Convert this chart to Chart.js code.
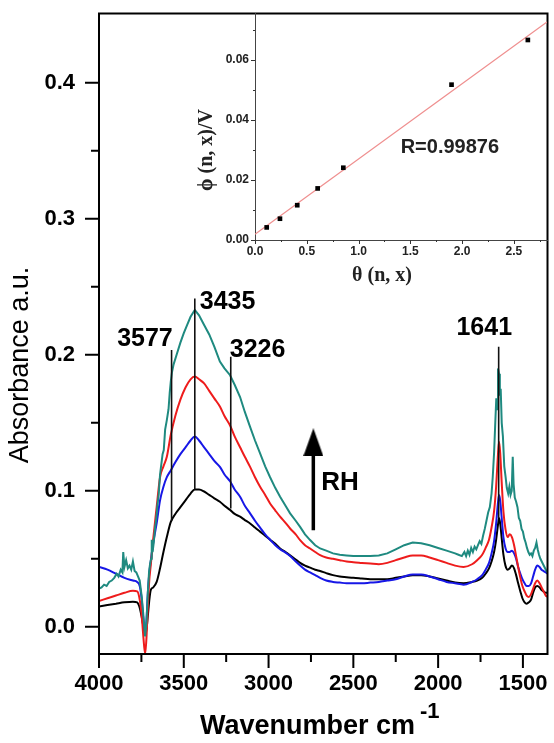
<!DOCTYPE html>
<html><head><meta charset="utf-8">
<script src="https://cdn.jsdelivr.net/npm/chart.js@4.4.1/dist/chart.umd.min.js"></script>
<style>
html,body{margin:0;padding:0;background:#fff;}
#wrap{position:relative;width:554px;height:743px;overflow:hidden;}
#main,#inset{position:absolute;left:0;top:0;}
</style></head><body>
<div id="wrap"><canvas id="main" width="561" height="743"></canvas><canvas id="inset" width="554" height="300"></canvas></div>
<script>
const wavenumbers = [4000,3950,3900,3850,3800,3775,3760,3748,3738,3728,3720,3712,3703,3695,3680,3660,3640,3620,3600,3577,
 3550,3520,3490,3460,3435,3410,3380,3350,3320,3287,
 3260,3227,3200,3168,3140,3109,3080,3050,3020,2991,
 2960,2932,2900,2873,2840,2814,2785,2755,2725,2696,
 2660,2620,2580,2540,2500,2450,2400,2350,2300,2250,
 2200,2150,2100,2050,2000,1950,1900,1850,1800,1770,
 1740,1720,1700,1685,1670,1658,1648,1641,1634,1625,
 1615,1603,1590,1578,1565,1552,1540,1528,1515,1503,
 1490,1478,1465,1452,1440,1428,1415,1402,1390,1378,
 1365,1355];
const absBlack = [0.015,0.016,0.017,0.018,0.0185,0.018,0.014,0.007,0.000,-0.005,-0.002,0.008,0.020,0.027,0.029,0.033,0.043,0.055,0.066,0.077,
 0.083,0.088,0.093,0.098,0.101,0.101,0.0995,0.097,0.0945,0.092,
 0.089,0.086,0.083,0.081,0.0785,0.076,0.073,0.070,0.067,0.064,
 0.061,0.0576,0.055,0.0525,0.0495,0.047,0.045,0.0435,0.042,0.041,
 0.0395,0.038,0.037,0.0365,0.036,0.0355,0.035,0.035,0.035,0.036,
 0.037,0.038,0.038,0.037,0.0355,0.034,0.0325,0.032,0.033,0.034,
 0.036,0.039,0.043,0.048,0.055,0.064,0.074,0.080,0.076,0.065,
 0.053,0.045,0.042,0.043,0.045,0.043,0.038,0.032,0.026,0.021,
 0.018,0.017,0.018,0.020,0.025,0.029,0.030,0.029,0.027,0.026,
 0.025,0.025];
const absBlue = [0.044,0.042,0.039,0.036,0.034,0.033,0.030,0.020,0.005,-0.005,0.005,0.025,0.040,0.048,0.062,0.076,0.093,0.103,0.110,0.115,
 0.121,0.127,0.132,0.137,0.140,0.137,0.132,0.127,0.122,0.1176,
 0.112,0.107,0.101,0.0956,0.089,0.0834,0.078,0.073,0.068,0.064,
 0.060,0.057,0.0545,0.052,0.048,0.045,0.042,0.040,0.038,0.036,
 0.034,0.033,0.0325,0.032,0.032,0.032,0.0325,0.033,0.034,0.035,
 0.037,0.0385,0.0385,0.037,0.035,0.033,0.032,0.031,0.033,0.035,
 0.038,0.042,0.047,0.054,0.063,0.076,0.090,0.097,0.093,0.080,
 0.066,0.058,0.055,0.055,0.056,0.054,0.050,0.044,0.039,0.035,
 0.032,0.030,0.030,0.032,0.037,0.042,0.045,0.044,0.042,0.041,
 0.040,0.039];
const absRed = [0.019,0.021,0.023,0.025,0.0265,0.026,0.020,0.008,-0.008,-0.020,-0.008,0.015,0.035,0.045,0.065,0.088,0.110,0.118,0.125,0.141,
 0.155,0.167,0.176,0.182,0.184,0.182,0.179,0.1735,0.168,0.162,
 0.155,0.148,0.140,0.132,0.125,0.1176,0.110,0.103,0.097,0.0907,
 0.0855,0.081,0.0765,0.0723,0.068,0.0637,0.060,0.0576,0.055,0.0527,
 0.051,0.050,0.049,0.048,0.0475,0.047,0.0465,0.046,0.047,0.049,
 0.051,0.0525,0.0525,0.051,0.049,0.047,0.045,0.044,0.046,0.049,
 0.053,0.058,0.064,0.073,0.085,0.103,0.125,0.136,0.128,0.106,
 0.085,0.072,0.066,0.068,0.066,0.060,0.052,0.044,0.036,0.030,
 0.026,0.023,0.022,0.024,0.028,0.032,0.034,0.032,0.029,0.026,
 0.023,0.022];
const tealWavenumbers = [4000,3985,3970,3955,3940,3925,3910,3896,3885,3872,3862,3857,3850,3840,3830,3820,3810,3800,3790,3780,3770,3760,
 3748,3738,3728,3720,3712,3705,3699,3693,3689,3684,3677,3670,3662,3655,3648,3640,3632,3625,3618,3610,3600,3590,3583,3577,3570,3560,
 3540,3520,3500,3480,3460,3435,3410,3380,3350,3320,3287,3260,3227,3200,3168,3140,3109,3080,3050,3020,2991,2960,2932,2900,2873,2840,2814,2785,2755,2725,2696,2660,2620,2580,2540,2500,2450,2400,2350,2300,2250,2200,2150,2100,2050,2000,1950,1900,
 1880,1860,1845,1835,1825,1815,1805,1795,1785,1775,1765,1755,1745,1735,1725,1715,1705,1695,1685,1678,1670,1663,1657,1652,1647,1641,1636,1631,1625,1618,1610,1602,1595,1587,1580,1573,1566,1560,1555,1548,1540,1532,1524,1516,1508,1500,1492,1484,1476,1468,1460,1452,1444,1436,1428,1420,1413,1405,1397,1389,1381,1373,1365,1355];
const absTeal = [0.028,0.029,0.031,0.030,0.033,0.034,0.036,0.039,0.037,0.042,0.040,0.055,0.044,0.049,0.043,0.045,0.042,0.048,0.041,0.040,0.037,0.034,
 0.022,0.008,-0.007,0.003,0.025,0.040,0.046,0.050,0.064,0.055,0.062,0.072,0.080,0.090,0.097,0.112,0.120,0.127,0.130,0.145,0.152,0.160,0.172,0.180,0.187,0.193,
 0.201,0.209,0.216,0.222,0.228,0.233,0.229,0.222,0.215,0.206,0.195,0.190,0.185,0.178,0.169,0.158,0.147,0.137,0.1275,0.118,0.110,0.102,0.0956,0.089,0.0834,0.078,0.0735,0.068,0.0638,0.060,0.0576,0.056,0.054,0.053,0.0525,0.052,0.052,0.052,0.0525,0.054,0.057,0.060,0.062,0.0615,0.060,0.058,0.056,0.054,
 0.053,0.052,0.055,0.052,0.056,0.053,0.058,0.055,0.059,0.057,0.060,0.063,0.061,0.067,0.072,0.078,0.084,0.088,0.098,0.110,0.128,0.150,0.168,0.160,0.190,0.186,0.170,0.175,0.150,0.140,0.118,0.110,0.102,0.098,0.103,0.097,0.100,0.125,0.105,0.095,0.092,0.088,0.080,0.078,0.072,0.070,0.065,0.062,0.058,0.055,0.053,0.054,0.052,0.056,0.058,0.062,0.057,0.053,0.050,0.048,0.046,0.044,0.042,0.040];

const xTickValues = [4000,3500,3000,2500,2000,1500];
const xMinorTickValues = [3750,3250,2750,2250,1750];
const yTickValues = [0.0,0.1,0.2,0.3,0.4];
const yMinorTickValues = [0.05,0.15,0.25,0.35];

const peakLabels = ['3577','3435','3226','1641'];
const peakLineWn = [3572,3435,3223,1643];
const peakLineTop = [0.2035,0.2415,0.1985,0.206];
const peakLineBottom = [0.078,0.101,0.087,0.080];
const peakLabelWn = [3729,3242,3065,1728];
const peakLabelAbs = [0.2115,0.2388,0.2035,0.2196];
const rhArrowWn = [2736,2736];
const rhArrowAbs = [0.071,0.1358];
const rhLabel = 'RH';
const rhLabelWn = 2578;
const rhLabelAbs = 0.1056;

const thetaValues = [0.113,0.241,0.408,0.605,0.853,1.898,2.635];
const phiValues = [0.0042,0.0071,0.0116,0.0172,0.0241,0.0518,0.0667];
const fitTheta = [0,2.82];
const fitPhi = [0.0019,0.0727];
const insetXTicks = [0,0.5,1.0,1.5,2.0,2.5];
const insetXMinor = [0.25,0.75,1.25,1.75,2.25,2.75];
const insetYTicks = [0,0.02,0.04,0.06];
const insetYMinor = [0.01,0.03,0.05,0.07];
const rText = 'R=0.99876';
const rTextTheta = 1.882, rTextPhi = 0.031;

const SANS = '"Liberation Sans", Arial, sans-serif';
const SERIF = '"Liberation Serif", "Times New Roman", serif';

const pts = (xs, ys) => xs.map((x,i)=>({x, y: ys[i]}));
const noPad = s => { s.paddingTop = 0; s.paddingBottom = 0; s.paddingLeft = 0; s.paddingRight = 0; };

const head = document.createElement('canvas');
head.width = 20; head.height = 28;
(function(){const c=head.getContext('2d');c.fillStyle='#000';c.beginPath();c.moveTo(10,0);c.lineTo(20,28);c.lineTo(0,28);c.closePath();c.fill();})();

const mainTicksPlugin = {
  id:'mainTicks',
  afterDraw(chart){
    const {ctx, chartArea:a, scales:{x,y}} = chart;
    ctx.save();
    ctx.strokeStyle='#000'; ctx.lineWidth=2;
    ctx.beginPath();
    xTickValues.forEach(v=>{const p=x.getPixelForValue(v);ctx.moveTo(p,a.bottom);ctx.lineTo(p,a.bottom+14);});
    xMinorTickValues.forEach(v=>{const p=x.getPixelForValue(v);ctx.moveTo(p,a.bottom);ctx.lineTo(p,a.bottom+8);});
    yTickValues.forEach(v=>{const p=y.getPixelForValue(v);ctx.moveTo(a.left,p);ctx.lineTo(a.left-14,p);});
    yMinorTickValues.forEach(v=>{const p=y.getPixelForValue(v);ctx.moveTo(a.left,p);ctx.lineTo(a.left-8,p);});
    ctx.stroke();
    ctx.strokeRect(a.left,a.top,a.right-a.left,a.bottom-a.top);
    ctx.fillStyle='#000';
    ctx.textAlign='center'; ctx.textBaseline='middle';
    ctx.font='bold 25px '+SANS;
    peakLabels.forEach((t,i)=>ctx.fillText(t, x.getPixelForValue(peakLabelWn[i]), y.getPixelForValue(peakLabelAbs[i])));
    ctx.font='bold 26px '+SANS;
    ctx.fillText(rhLabel, x.getPixelForValue(rhLabelWn), y.getPixelForValue(rhLabelAbs));
    ctx.textAlign='left';
    ctx.font='bold 27px '+SANS;
    ctx.fillText('Wavenumber cm', 200, 727);
    ctx.font='bold 22px '+SANS;
    ctx.fillText('-1', 420, 712);
    ctx.translate(21, 365); ctx.rotate(-Math.PI/2);
    ctx.textAlign='center';
    ctx.font='27px '+SANS;
    ctx.fillText('Absorbance a.u.', 0, 0);
    ctx.restore();
  }
};

const lineDs = (label, xs, ys, color, w, extra) => Object.assign({
  label, data: pts(xs, ys), borderColor: color, backgroundColor: color,
  borderWidth: w, pointRadius: 0, tension: 0, fill: false
}, extra || {});

const datasets = [];
peakLabels.forEach((t,i)=>{
  datasets.push(lineDs('line'+t, [peakLineWn[i],peakLineWn[i]], [peakLineTop[i],peakLineBottom[i]], '#111', 1.6));
});
datasets.push(lineDs('arrow', rhArrowWn, rhArrowAbs, '#000', 3.5, {pointRadius:[0,10], pointStyle: head}));
datasets.push(lineDs('teal', tealWavenumbers, absTeal, '#1f8a80', 2));
datasets.push(lineDs('red', wavenumbers, absRed, '#ee1c1c', 2, {cubicInterpolationMode:'monotone'}));
datasets.push(lineDs('blue', wavenumbers, absBlue, '#1717e6', 2, {cubicInterpolationMode:'monotone'}));
datasets.push(lineDs('black', wavenumbers, absBlack, '#000', 2, {cubicInterpolationMode:'monotone'}));

new Chart(document.getElementById('main'), {
  type:'scatter',
  data:{datasets},
  options:{
    responsive:false, animation:false, devicePixelRatio:1,
    showLine:true,
    layout:{padding:{top:13,right:0,left:0,bottom:0}},
    plugins:{legend:{display:false}, tooltip:{enabled:false}},
    scales:{
      x:{type:'linear', reverse:true, min:1355, max:4000,
        afterFit:s=>{s.height=89; noPad(s);},
        afterBuildTicks:s=>{s.ticks=xTickValues.map(v=>({value:v}));},
        grid:{display:false, drawTicks:true, tickLength:17}, border:{display:false},
        ticks:{color:'#000', padding:0, autoSkip:false, maxRotation:0, font:{family:SANS, size:22, weight:'bold'}, callback:v=>String(v)}},
      y:{type:'linear', min:-0.02, max:0.451,
        afterFit:s=>{s.width=99; noPad(s);},
        afterBuildTicks:s=>{s.ticks=yTickValues.map(v=>({value:v}));},
        grid:{display:false, drawTicks:true, tickLength:24}, border:{display:false},
        ticks:{color:'#000', padding:0, autoSkip:false, font:{family:SANS, size:22, weight:'bold'}, callback:v=>Number(v).toFixed(1)}}
    }
  },
  plugins:[mainTicksPlugin]
});

const insetPlugin = {
  id:'insetDeco',
  afterDraw(chart){
    const {ctx, chartArea:a, scales:{x,y}} = chart;
    ctx.save();
    ctx.strokeStyle='#333'; ctx.lineWidth=1;
    ctx.beginPath();
    insetXTicks.forEach(v=>{const p=Math.round(x.getPixelForValue(v))+0.5;ctx.moveTo(p,a.bottom);ctx.lineTo(p,a.bottom+4);});
    insetXMinor.forEach(v=>{const p=Math.round(x.getPixelForValue(v))+0.5;ctx.moveTo(p,a.bottom);ctx.lineTo(p,a.bottom+2);});
    insetYTicks.forEach(v=>{const p=Math.round(y.getPixelForValue(v))+0.5;ctx.moveTo(a.left,p);ctx.lineTo(a.left-4,p);});
    insetYMinor.forEach(v=>{const p=Math.round(y.getPixelForValue(v))+0.5;ctx.moveTo(a.left,p);ctx.lineTo(a.left-2,p);});
    ctx.stroke();
    ctx.fillStyle='#222';
    ctx.textAlign='center'; ctx.textBaseline='middle';
    ctx.font='bold 20px '+SANS;
    ctx.fillText(rText, x.getPixelForValue(rTextTheta), y.getPixelForValue(rTextPhi));
    ctx.font='bold 20px '+SERIF;
    ctx.fillText('\u03b8 (n, x)', 382, 276);
    ctx.translate(207, 150); ctx.rotate(-Math.PI/2);
    ctx.fillText('\u03d5 (n, x)/V', 0, 0);
    ctx.restore();
  }
};

new Chart(document.getElementById('inset'), {
  type:'scatter',
  data:{datasets:[
    {label:'points', data: pts(thetaValues, phiValues), pointStyle:'rect', pointRadius:3.3, backgroundColor:'#000', borderColor:'#000', borderWidth:0, showLine:false},
    {label:'fit', data: pts(fitTheta, fitPhi), showLine:true, borderColor:'#ef8f8f', borderWidth:1.2, pointRadius:0, fill:false}
  ]},
  options:{
    responsive:false, animation:false, devicePixelRatio:1,
    layout:{padding:{top:13,right:7,left:0,bottom:0}},
    plugins:{legend:{display:false}, tooltip:{enabled:false}},
    scales:{
      x:{type:'linear', min:0, max:2.82,
        afterFit:s=>{s.height=60; noPad(s);},
        afterBuildTicks:s=>{s.ticks=insetXTicks.map(v=>({value:v}));},
        grid:{display:false, drawTicks:true, tickLength:4}, border:{display:true, color:'#444', width:1},
        ticks:{color:'#222', padding:0, autoSkip:false, maxRotation:0, font:{family:SANS, size:12, weight:'bold'}, callback:v=>Number(v).toFixed(1)}},
      y:{type:'linear', min:0, max:0.0757,
        afterFit:s=>{s.width=255; noPad(s);},
        afterBuildTicks:s=>{s.ticks=insetYTicks.map(v=>({value:v}));},
        grid:{display:false, drawTicks:true, tickLength:6}, border:{display:true, color:'#444', width:1},
        ticks:{color:'#222', padding:0, autoSkip:false, font:{family:SANS, size:12, weight:'bold'}, callback:v=>Number(v).toFixed(2)}}
    }
  },
  plugins:[insetPlugin]
});
</script>
</body></html>
